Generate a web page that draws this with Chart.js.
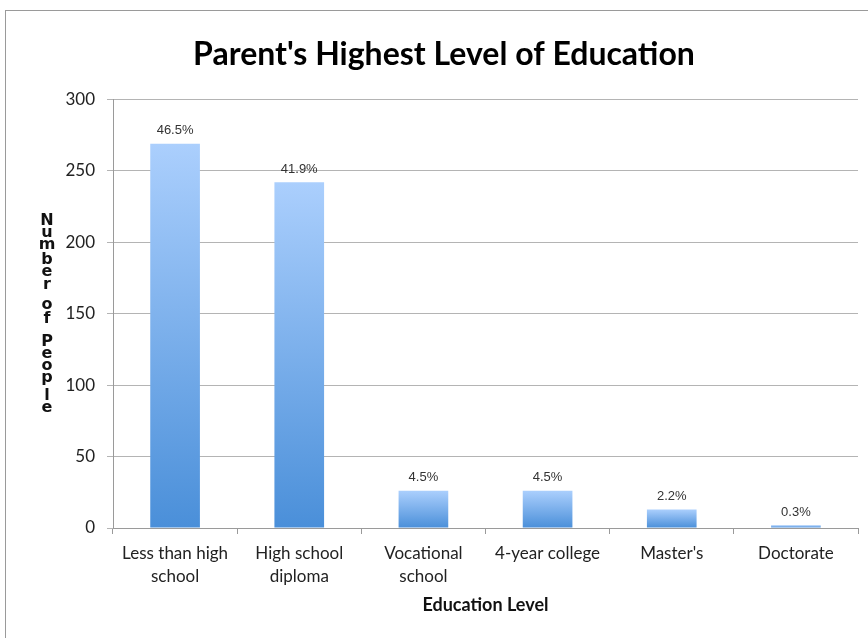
<!DOCTYPE html>
<html>
<head>
<meta charset="utf-8">
<script src="https://cdn.jsdelivr.net/npm/chart.js@4.4.1/dist/chart.umd.min.js"></script>
<style>
  html, body { margin: 0; padding: 0; background: #fff; }
  #wrap { position: relative; width: 868px; height: 638px; overflow: hidden; }
  #frame { position: absolute; left: 5px; top: 10px; width: 900px; height: 700px; border: 1px solid #9a9a9a; }
  canvas { position: absolute; left: 0; top: 0; }
</style>
</head>
<body>
<div id="wrap">
  <div id="frame"></div>
  <canvas id="chart" width="868" height="638"></canvas>
</div>
<script>
// data
const categories = [
  ['Less than high', 'school'],
  ['High school', 'diploma'],
  ['Vocational', 'school'],
  '4-year college',
  "Master's",
  'Doctorate'
];
const counts = [269, 242, 26, 26, 13, 2];
const percentLabels = ['46.5%', '41.9%', '4.5%', '4.5%', '2.2%', '0.3%'];
const yTicks = [0, 50, 100, 150, 200, 250, 300];
const yTitle = 'Number of People';
const xTitle = 'Education Level';
const chartTitle = "Parent's Highest Level of Education";

const FONT = 'Lato, "Open Sans", sans-serif';

// vertical gradient per bar, light top to darker bottom
function barFill(context) {
  const chart = context.chart;
  const y = chart.scales.y;
  if (!chart.chartArea || !y) return '#7fb2ee';
  const top = y.getPixelForValue(context.raw);
  const bottom = y.getPixelForValue(0);
  const g = chart.ctx.createLinearGradient(0, top, 0, bottom);
  g.addColorStop(0, '#abcffd');
  g.addColorStop(1, '#4a8fd9');
  return g;
}

// percent labels above each bar
const percentPlugin = {
  id: 'percentLabels',
  afterDatasetsDraw(chart) {
    const ctx = chart.ctx;
    const meta = chart.getDatasetMeta(0);
    ctx.save();
    ctx.font = '13px Arial, "Liberation Sans", sans-serif';
    ctx.fillStyle = '#333';
    ctx.textAlign = 'center';
    ctx.textBaseline = 'middle';
    meta.data.forEach((bar, i) => {
      ctx.fillText(percentLabels[i], bar.x, bar.y - 13);
    });
    ctx.restore();
  }
};

// y axis title, letters stacked upright and packed to fit the span
const stackedTitlePlugin = {
  id: 'stackedTitle',
  afterDraw(chart) {
    const ctx = chart.ctx;
    ctx.save();
    ctx.font = 'bold 16px "DejaVu Sans", sans-serif';
    ctx.fillStyle = '#111';
    ctx.textAlign = 'center';
    ctx.textBaseline = 'alphabetic';
    const chars = [...yTitle];
    const spaceH = 5;
    const boxes = chars.map(ch => {
      if (ch === ' ') return { ch, a: 0, d: 0, h: spaceH };
      const m = ctx.measureText(ch);
      const a = m.actualBoundingBoxAscent, d = m.actualBoundingBoxDescent;
      return { ch, a, d, h: a + d };
    });
    const top = 213, bottom = 412;
    const total = boxes.reduce((s, b) => s + b.h, 0);
    const gap = (bottom - top - total) / (boxes.length - 1);
    let y = top;
    boxes.forEach(b => {
      if (b.ch !== ' ') ctx.fillText(b.ch, 47, y + b.a);
      y += b.h + gap;
    });
    ctx.restore();
  }
};

new Chart(document.getElementById('chart'), {
  type: 'bar',
  data: {
    labels: categories,
    datasets: [{
      data: counts,
      backgroundColor: barFill,
      borderWidth: 0,
      categoryPercentage: 1,
      barPercentage: 0.4
    }]
  },
  options: {
    responsive: false,
    animation: false,
    layout: { padding: { left: 30, right: 10, top: 0, bottom: 0 } },
    plugins: {
      legend: { display: false },
      tooltip: { enabled: false },
      title: {
        display: true,
        text: chartTitle,
        color: '#000',
        font: { family: FONT, size: 32, weight: 'bold' },
        padding: { top: 35, bottom: 26 }
      }
    },
    scales: {
      x: {
        grid: {
          offset: true,
          drawOnChartArea: false,
          drawTicks: true,
          tickLength: 6,
          color: '#9a9a9a'
        },
        border: { color: '#9a9a9a' },
        ticks: {
          color: '#222',
          font: { family: FONT, size: 17, lineHeight: 1.35 },
          padding: 8,
          maxRotation: 0,
          autoSkip: false
        },
        title: {
          display: true,
          text: xTitle,
          color: '#111',
          font: { family: FONT, size: 18, weight: 'bold' },
          padding: { top: 4, bottom: 22 }
        },
        afterFit(scale) { scale.height = 110; }
      },
      y: {
        min: 0,
        max: 300,
        afterBuildTicks(scale) {
          scale.ticks = yTicks.map(v => ({ value: v }));
        },
        grid: {
          color: '#b4b4b4',
          tickLength: 6
        },
        border: { color: '#9a9a9a' },
        ticks: {
          color: '#222',
          font: { family: FONT, size: 17 },
          padding: 12
        },
        afterFit(scale) { scale.width = 83; }
      }
    }
  },
  plugins: [percentPlugin, stackedTitlePlugin]
});
</script>
</body>
</html>
